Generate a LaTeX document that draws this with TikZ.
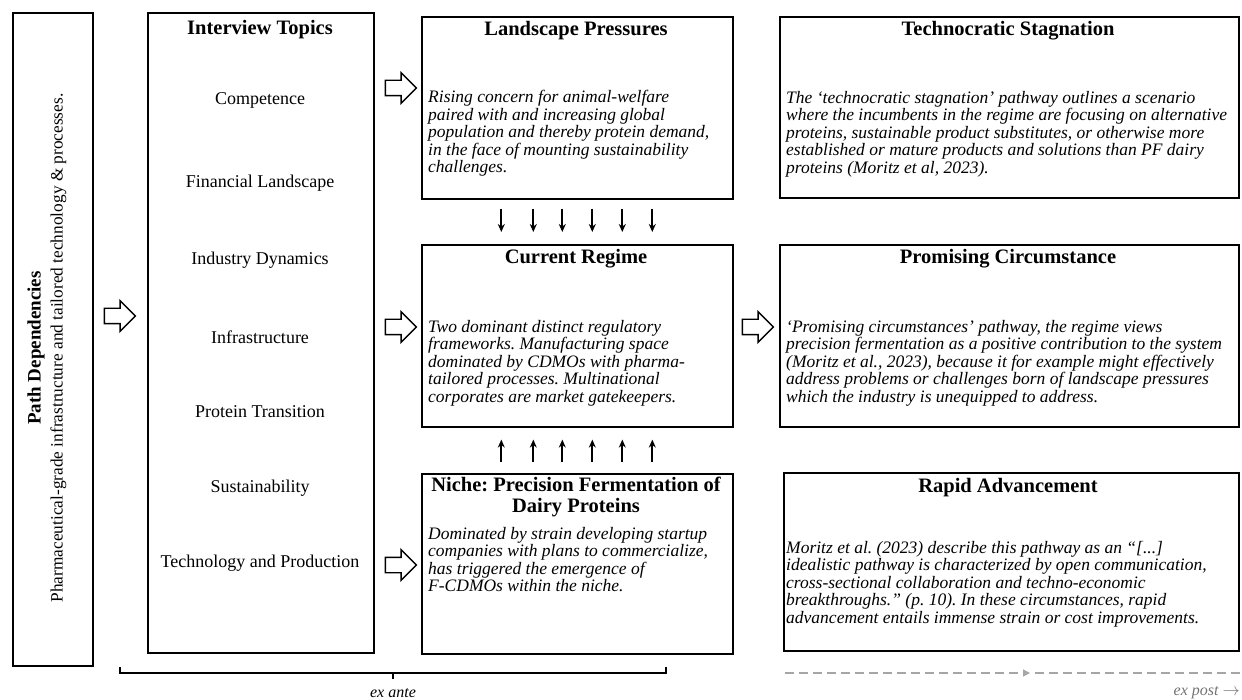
\documentclass[tikz,border=0pt]{standalone}
\usepackage{fontspec}
\setmainfont{Liberation Serif}
\usetikzlibrary{positioning,shapes.arrows,arrows.meta}

\begin{document}
\begin{tikzpicture}[x=1pt,y=-1pt,
    box/.style={draw, line width=1.6pt, inner sep=0pt, anchor=north west},
    ttl/.style={font=\fontsize{20.5}{21}\selectfont\bfseries\frenchspacing, align=center, inner sep=0pt},
    body/.style={font=\fontsize{17.5}{17.5}\selectfont\itshape\frenchspacing, align=left, anchor=north west, inner sep=0pt},
    topic/.style={font=\fontsize{18}{20}\selectfont, inner sep=0pt},
    hollow/.style={single arrow, draw, line width=1.4pt, minimum height=31pt, inner sep=7pt, single arrow head extend=7.5pt},
    smallarr/.style={-{Stealth[length=8pt,width=7pt]}, line width=1.7pt},
    timeline/.style={gray!70, line width=1.3pt, dash pattern=on 9pt off 5pt}
  ]
  \useasboundingbox (0,0) rectangle (1242,700);

  %riquadri
  \node[box, minimum width=80pt, minimum height=653pt] (path) at (12,12) {};
  \node[box, minimum width=226pt, minimum height=640pt] (topics) at (147,12) {};
  \node[box, minimum width=311pt, minimum height=182pt] (land) at (421,16) {};
  \node[box, minimum width=311pt, minimum height=182pt] (regime) at (421,244) {};
  \node[box, minimum width=311pt, minimum height=180pt] (niche) at (421,473) {};
  \node[box, minimum width=459pt, minimum height=181pt] (techno) at (779,16) {};
  \node[box, minimum width=459pt, minimum height=182pt] (promise) at (779,244) {};
  \node[box, minimum width=455pt, minimum height=178pt] (rapid) at (783,472) {};

  %path dependencies
  \node[rotate=90, align=center, inner sep=0pt, font=\fontsize{17.3}{22}\selectfont] (pathtxt) at (47,348)
    {{\fontsize{19}{22}\selectfont\bfseries Path Dependencies}\\
     Pharmaceutical-grade infrastructure and tailored technology \& processes.};

  %interview topics
  \node[ttl] (topicsttl) at (260,30) {Interview Topics};
  \foreach \name/\yy in {Competence/100, Financial Landscape/183, Industry Dynamics/260,
      Infrastructure/337, Protein Transition/412, Sustainability/488, Technology and Production/563}
    \node[topic] (topic-\yy) at (260,\yy) {\name};

  %colonna centrale
  \node[ttl] (landttl) at (576,31) {Landscape Pressures};
  \node[body] (landtxt) at (428,90) {Rising concern for animal-welfare\\
    paired with and increasing global\\
    population and thereby protein demand,\\
    in the face of mounting sustainability\\
    challenges.};
  \node[ttl] (regimettl) at (576,259) {Current Regime};
  \node[body] (regimetxt) at (428,320) {Two dominant distinct regulatory\\
    frameworks. Manufacturing space\\
    dominated by CDMOs with pharma-\\
    tailored processes. Multinational\\
    corporates are market gatekeepers.};
  \node[ttl] (nichettl) at (576,497) {Niche: Precision Fermentation of\\Dairy Proteins};
  \node[body] (nichetxt) at (428,527) {Dominated by strain developing startup\\
    companies with plans to commercialize,\\
    has triggered the emergence of\\
    F-CDMOs within the niche.};

  %percorsi
  \node[ttl] (technottl) at (1008,31) {Technocratic Stagnation};
  \node[body] (technotxt) at (786,91) {The ‘technocratic stagnation’ pathway outlines a scenario\\
    where the incumbents in the regime are focusing on alternative\\
    proteins, sustainable product substitutes, or otherwise more\\
    established or mature products and solutions than PF dairy\\
    proteins (Moritz et al, 2023).};
  \node[ttl] (promisettl) at (1008,259) {Promising Circumstance};
  \node[body] (promisetxt) at (786,320) {‘Promising circumstances’ pathway, the regime views\\
    precision fermentation as a positive contribution to the system\\
    (Moritz et al., 2023), because it for example might effectively\\
    address problems or challenges born of landscape pressures\\
    which the industry is unequipped to address.};
  \node[ttl] (rapidttl) at (1008,488) {Rapid Advancement};
  \node[body] (rapidtxt) at (786,541) {Moritz et al. (2023) describe this pathway as an “[...]\\
    idealistic pathway is characterized by open communication,\\
    cross-sectional collaboration and techno-economic\\
    breakthroughs." (p. 10). In these circumstances, rapid\\
    advancement entails immense strain or cost improvements.};

  %frecce vuote
  \node[hollow] (arrpath) at (116,316) {};
  \node[hollow] (arrland) at (397,88) {};
  \node[hollow] (arrregime) at (397,327) {};
  \node[hollow] (arrniche) at (397,565) {};
  \node[hollow] (arrpromise) at (754,327) {};

  %frecce piccole
  \foreach \dx in {-76,-44,-15,15,45,75} {
    \draw[smallarr, shorten <=9pt, shorten >=12pt] ([xshift=\dx pt]land.south) -- ([xshift=\dx pt]regime.north);
    \draw[smallarr, shorten <=11pt, shorten >=12pt] ([xshift=\dx pt]niche.north) -- ([xshift=\dx pt]regime.south);
  }

  %ex ante / ex post
  \coordinate (braceL) at (120,667);
  \coordinate (braceR) at (666,667);
  \draw[line width=1.3pt] (braceL) -- ++(0,6) -| (braceR);
  \draw[line width=1.3pt] (393,673) -- (393,679);
  \node[font=\fontsize{16}{16}\selectfont\itshape, anchor=north, inner sep=0pt] (exante) at (393,688) {ex ante};

  \coordinate (dstart) at (785,673);
  \coordinate (dmid) at (1030,673);
  \coordinate (dend) at (1242,673);
  \draw[timeline, -{Triangle[length=7pt,width=7pt]}] (dstart) -- (dmid);
  \draw[timeline] ([xshift=5pt]dmid) -- (dend);
  \node[font=\fontsize{16}{16}\selectfont\itshape, anchor=base east, inner sep=0pt, text=gray!90!black] (expost) at (1240,695) {ex post $\rightarrow$};
\end{tikzpicture}
\end{document}
